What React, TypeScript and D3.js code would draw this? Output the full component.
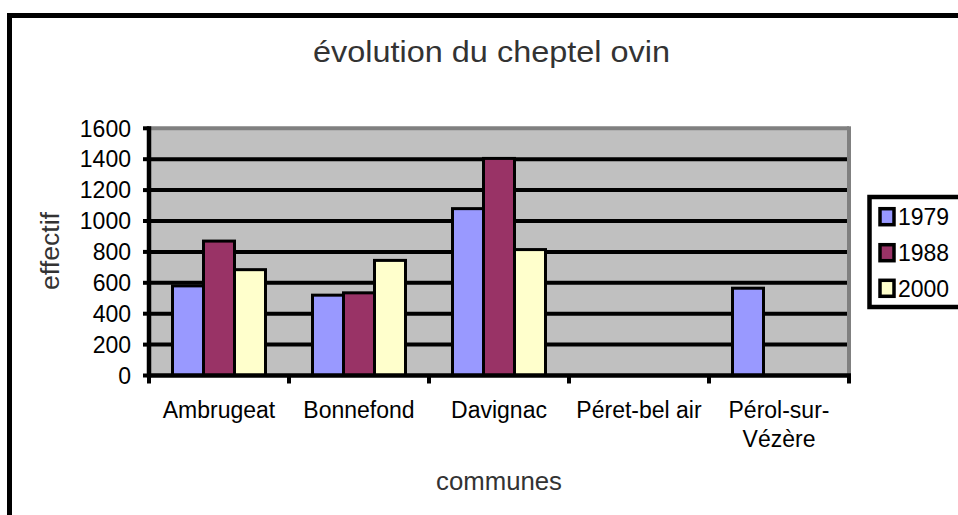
import React from 'react';
import * as d3 from 'd3';

const categories = ['Ambrugeat', 'Bonnefond', 'Davignac', 'Péret-bel air', 'Pérol-sur-Vézère'];
const categoryLines = [['Ambrugeat'], ['Bonnefond'], ['Davignac'], ['Péret-bel air'], ['Pérol-sur-', 'Vézère']];
const seriesNames = ['1979', '1988', '2000'];
const values1979 = [580, 520, 1080, null, 565];
const values1988 = [870, 535, 1405, null, null];
const values2000 = [685, 745, 815, null, null];
const seriesColors = ['#9999FF', '#993366', '#FFFFCC'];
const yTicks = [0, 200, 400, 600, 800, 1000, 1200, 1400, 1600];
const titleText = 'évolution du cheptel ovin';
const xTitle = 'communes';
const yTitle = 'effectif';

const seriesValues = [values1979, values1988, values2000];

export default function App() {
  const left = 149, right = 849, top = 128.3, bottom = 375.5;
  const x0 = d3.scaleBand<string>().domain(categories).range([left, right]).padding(0);
  const bw = x0.bandwidth();
  const x1 = d3.scaleBand<string>().domain(seriesNames).range([bw / 2 - 46.5, bw / 2 + 46.5]).padding(0);
  const y = d3.scaleLinear().domain([0, 1600]).range([bottom, top]);

  const sans = '"Liberation Sans", Arial, sans-serif';
  const legendRows = [216.7, 252.7, 288.3];

  return (
    <svg width={958} height={515} style={{ position: 'absolute', left: 0, top: 0 }}>
      <rect x={0} y={0} width={958} height={515} fill="#fff" />
      <rect x={9.5} y={15.5} width={1000} height={600} fill="#fff" stroke="#000" strokeWidth={5} />

      <text x={491.5} y={61.7} textAnchor="middle" fontFamily={sans} fontSize={30} fill="#333"
        textLength={357} lengthAdjust="spacingAndGlyphs">{titleText}</text>

      {/* plot area */}
      <rect x={left} y={top} width={right - left} height={bottom - top} fill="#C0C0C0" />
      <line x1={left} x2={right} y1={top} y2={top} stroke="#808080" strokeWidth={4} />
      <line x1={right} x2={right} y1={top - 2} y2={bottom} stroke="#808080" strokeWidth={4} />
      {yTicks.filter(t => t > 0 && t < 1600).map(t => (
        <line key={t} x1={left} x2={right - 2} y1={y(t)} y2={y(t)} stroke="#000" strokeWidth={4} />
      ))}

      {/* bars */}
      {categories.map((c, ci) => (
        <g key={c} transform={`translate(${x0(c)},0)`}>
          {seriesNames.map((s, si) => {
            const v = seriesValues[si][ci];
            if (v == null) return null;
            return (
              <rect key={s} x={x1(s)!} y={y(v)} width={x1.bandwidth()} height={y(0) - y(v)}
                fill={seriesColors[si]} stroke="#000" strokeWidth={3} />
            );
          })}
        </g>
      ))}

      {/* axes */}
      <line x1={left} x2={left} y1={top - 2} y2={bottom + 2} stroke="#000" strokeWidth={4.5} />
      <line x1={left - 2} x2={right + 2} y1={bottom} y2={bottom} stroke="#000" strokeWidth={4.5} />
      {yTicks.map(t => (
        <g key={t}>
          <line x1={left - 6} x2={left} y1={y(t)} y2={y(t)} stroke="#000" strokeWidth={4} />
          <text x={131} y={y(t)} dy="0.36em" textAnchor="end" fontFamily={sans} fontSize={23} fill="#000">{t}</text>
        </g>
      ))}
      {d3.range(categories.length + 1).map(i => {
        const xx = left + i * bw;
        return <line key={i} x1={xx} x2={xx} y1={bottom} y2={bottom + 8} stroke="#000" strokeWidth={4} />;
      })}
      {categories.map((c, ci) => (
        <text key={c} x={x0(c)! + bw / 2} y={418} textAnchor="middle" fontFamily={sans} fontSize={23} fill="#000">
          {categoryLines[ci].map((ln, li) => (
            <tspan key={li} x={x0(c)! + bw / 2} dy={li === 0 ? 0 : 29}>{ln}</tspan>
          ))}
        </text>
      ))}

      <text x={499} y={490} textAnchor="middle" fontFamily={sans} fontSize={25} fill="#333"
        textLength={126} lengthAdjust="spacingAndGlyphs">{xTitle}</text>
      <text transform="translate(59,251) rotate(-90)" x={0} y={0} textAnchor="middle" fontFamily={sans} fontSize={25} fill="#333"
        textLength={78} lengthAdjust="spacingAndGlyphs">{yTitle}</text>

      {/* legend */}
      <rect x={869.5} y={197} width={110} height={110} fill="#fff" stroke="#000" strokeWidth={4.5} />
      {seriesNames.map((s, si) => (
        <g key={s}>
          <rect x={880} y={legendRows[si] - 8} width={14} height={16} fill={seriesColors[si]} stroke="#000" strokeWidth={3.5} />
          <text x={898} y={legendRows[si]} dy="0.36em" fontFamily={sans} fontSize={23} fill="#000">{s}</text>
        </g>
      ))}
    </svg>
  );
}
